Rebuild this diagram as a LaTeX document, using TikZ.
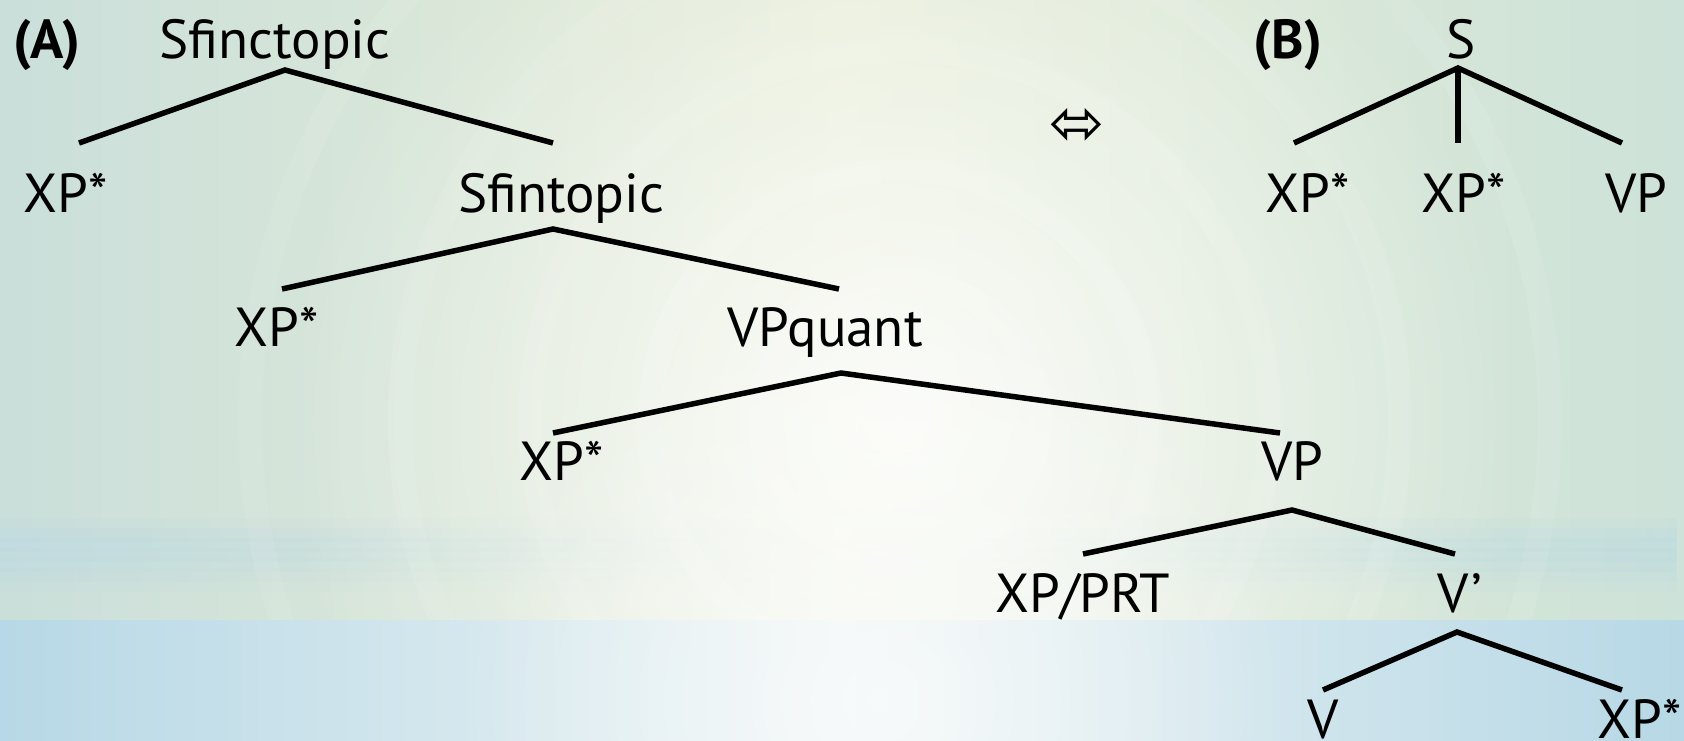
\documentclass[tikz,border=0pt]{standalone}
\usepackage{fontspec}
\setmainfont{PT Sans}
\newfontfamily\symfont{DejaVu Sans}
\usetikzlibrary{fadings}
\definecolor{bgleft}{HTML}{CADFDA}
\definecolor{bgmid}{HTML}{E7EDD7}
\definecolor{bgright}{HTML}{CDE2D8}
\definecolor{bandblue}{HTML}{B7D8E6}
\definecolor{bandmid}{HTML}{EDF4F4}
\tikzfading[name=glow, inner color=transparent!0, outer color=transparent!100]
\tikzfading[name=sidefade, left color=transparent!0, right color=transparent!0, middle color=transparent!100]
\begin{document}
\begin{tikzpicture}[x=1pt, y=-1pt,
  lab/.style={font=\fontsize{55}{60}\selectfont, inner sep=0pt, anchor=base},
  tag/.style={lab, font=\fontsize{55}{60}\selectfont\bfseries},
  edge/.style={line width=5.5pt, black}]
  \useasboundingbox (0,0) rectangle (1684,740);

  % background: upper panel
  \shade[left color=bgleft, right color=bgright, middle color=bgmid] (0,0) rectangle (1684,620);
  \foreach \y/\o in {530/0.15,540/0.2,550/0.25,560/0.2,570/0.15,580/0.1} {
    \fill[bandblue, opacity=\o, path fading=sidefade] (0,\y-12) rectangle (1684,\y+12);
  }
  \fill[white, opacity=0.85, path fading=glow] (900,420) circle (620);
  \foreach \r/\o in {140/0.14,250/0.12,370/0.1,500/0.09,650/0.08} {
    \draw[white, opacity=\o, line width=24pt] (900,420) circle (\r);
  }
  % background: lower band
  \shade[left color=bandblue, right color=bandblue, middle color=bandmid] (0,620) rectangle (1684,740);
  \fill[white, opacity=0.6, path fading=glow] (880,700) circle (420);

  % tree (A)
  \node[tag] (tagA) at (47,58) {(A)};
  \node[lab] (sfc) at (275,58) {Sfinctopic};
  \node[lab] (xa1) at (66,212) {XP*};
  \node[lab] (sft) at (561,212) {Sfintopic};
  \node[lab] (xa2) at (277,346) {XP*};
  \node[lab] (vpq) at (825,346) {VPquant};
  \node[lab] (xa3) at (562,480) {XP*};
  \node[lab] (vpa) at (1292,480) {VP};
  \node[lab] (prt) at (1083,612) {XP/PRT};
  \node[lab] (vbar) at (1460,612) {V’};
  \node[lab] (v) at (1323,738) {V};
  \node[lab] (xa4) at (1640,738) {XP*};

  \coordinate (sfc-d) at (285,70);
  \coordinate (xa1-u) at (79,143);
  \coordinate (sft-u) at (553,143);
  \coordinate (sft-d) at (553,229);
  \coordinate (xa2-u) at (282,289);
  \coordinate (vpq-u) at (839,289);
  \coordinate (vpq-d) at (841,373);
  \coordinate (xa3-u) at (553,433);
  \coordinate (vpa-u) at (1280,433);
  \coordinate (vpa-d) at (1292,510);
  \coordinate (prt-u) at (1083,554);
  \coordinate (vbar-u) at (1455,554);
  \coordinate (vbar-d) at (1457,632);
  \coordinate (v-u) at (1323,690);
  \coordinate (xa4-u) at (1622,690);

  \draw[edge] (xa1-u) -- (sfc-d) -- (sft-u);
  \draw[edge] (xa2-u) -- (sft-d) -- (vpq-u);
  \draw[edge] (xa3-u) -- (vpq-d) -- (vpa-u);
  \draw[edge] (prt-u) -- (vpa-d) -- (vbar-u);
  \draw[edge] (v-u) -- (vbar-d) -- (xa4-u);

  % equivalence sign
  \node[inner sep=0pt, font=\symfont\fontsize{66}{70}\selectfont] (eq) at (1077,127) {⬄};

  % tree (B)
  \node[tag] (tagB) at (1288,58) {(B)};
  \node[lab] (s) at (1461,58) {S};
  \node[lab] (xb1) at (1308,212) {XP*};
  \node[lab] (xb2) at (1464,212) {XP*};
  \node[lab] (vpb) at (1636,212) {VP};

  \coordinate (s-d) at (1458,68);
  \coordinate (xb1-u) at (1294,143);
  \coordinate (xb2-u) at (1458,143);
  \coordinate (vpb-u) at (1622,143);

  \draw[edge] (xb1-u) -- (s-d) -- (vpb-u);
  \draw[edge] (s-d) -- (xb2-u);
\end{tikzpicture}
\end{document}
